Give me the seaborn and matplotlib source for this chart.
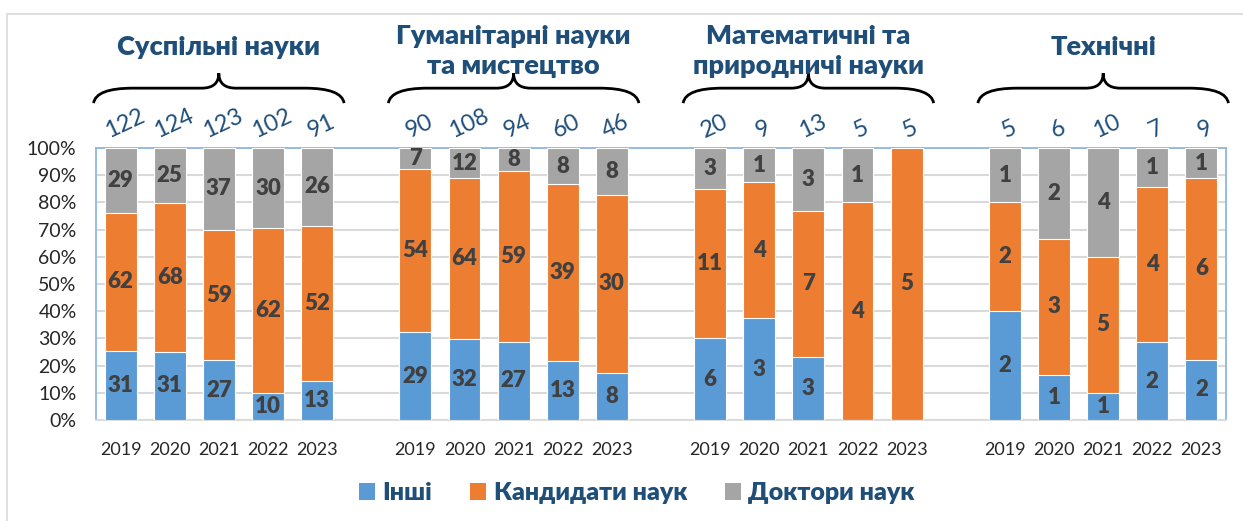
import numpy as np
import pandas as pd
import matplotlib
matplotlib.use("Agg")
import matplotlib.pyplot as plt
from matplotlib.patches import Patch, Rectangle, PathPatch
from matplotlib.path import Path
import seaborn as sns

# -------------------------------
# data
# -------------------------------
groups = ["Суспільні науки", "Гуманітарні науки\nта мистецтво",
          "Математичні та\nприродничі науки", "Технічні"]
years = ["2019", "2020", "2021", "2022", "2023"]

totals = [122, 124, 123, 102, 91,
          90, 108, 94, 60, 46,
          20, 9, 13, 5, 5,
          5, 6, 10, 7, 9]
inshi = [31, 31, 27, 10, 13,
         29, 32, 27, 13, 8,
         6, 3, 3, 0, 0,
         2, 1, 1, 2, 2]
kandydaty = [62, 68, 59, 62, 52,
             54, 64, 59, 39, 30,
             11, 4, 7, 4, 5,
             2, 3, 5, 4, 6]
doktory = [29, 25, 37, 30, 26,
           7, 12, 8, 8, 8,
           3, 1, 3, 1, 0,
           1, 2, 4, 1, 1]

series_names = ["Інші", "Кандидати наук", "Доктори наук"]
colors = ["#5B9BD5", "#ED7D31", "#A5A5A5"]
title_color = "#1F4E79"
label_color = "#404040"

# bar positions: 5 bars per group, one empty slot between groups
pos = [g * 6 + i for g in range(4) for i in range(5)]

df = pd.DataFrame({
    "pos": pos,
    "year": years * 4,
    "total": totals,
    "Інші": inshi,
    "Кандидати наук": kandydaty,
    "Доктори наук": doktory,
})
s = df[series_names].sum(axis=1)
df["p0"] = df["Інші"] / s * 100
df["p1"] = df["Кандидати наук"] / s * 100
df["p2"] = df["Доктори наук"] / s * 100
df["c0"] = df["p0"]
df["c1"] = df["p0"] + df["p1"]
df["c2"] = df["c1"] + df["p2"]

# -------------------------------
# figure
# -------------------------------
sns.set_style("white")
plt.rcParams["font.family"] = ["Lato", "Open Sans", "DejaVu Sans"]

W, H = 1243, 521
fig = plt.figure(figsize=(W / 100, H / 100), dpi=100)
ax = fig.add_axes([96 / W, 101 / H, 1130 / W, 272 / H])

# stacked bars drawn as layered cumulative bars
for col, c in zip(["c2", "c1", "c0"], colors[::-1]):
    sns.barplot(data=df, x="pos", y=col, native_scale=True, color=c,
                saturation=1, width=0.65, edgecolor="white", linewidth=0.8,
                errorbar=None, ax=ax, zorder=3)

# labels inside segments
for _, r in df.iterrows():
    bottom = 0
    for name, pk in zip(series_names, ["p0", "p1", "p2"]):
        v = r[name]
        h = r[pk]
        if v > 0:
            ax.text(r["pos"], bottom + h / 2, f"{int(v)}", ha="center", va="center",
                    fontsize=16, fontweight="heavy", color=label_color, zorder=5)
        bottom += h
    # totals above bars
    ax.text(r["pos"] + 0.08, 102.5, f"{int(r['total'])}", ha="center", va="bottom",
            rotation=25, fontsize=17, color=title_color, clip_on=False)

ax.set_xlim(-0.5, 22.5)
ax.set_ylim(0, 100)
ax.set_yticks(np.arange(0, 101, 10))
ax.set_yticklabels([f"{v}%" for v in range(0, 101, 10)], fontsize=14)
ax.set_xticks(pos)
ax.set_xticklabels(df["year"], fontsize=13)
ax.tick_params(axis="both", length=0)
ax.tick_params(axis="y", pad=14)
ax.tick_params(axis="x", pad=16)
ax.set_xlabel("")
ax.set_ylabel("")
ax.grid(axis="y", color="#D9D9D9", linewidth=1.5, zorder=0)
ax.set_axisbelow(True)
for sp in ax.spines.values():
    sp.set_color("#8FB8E0")
    sp.set_linewidth(1.3)
ax.spines["bottom"].set_color("#D9D9D9")


# curly braces and group titles
def brace(x0, x1, ye=116.5, yf=122, yt=127.5):
    xm = (x0 + x1) / 2
    verts = [(x0, ye), (x0 + 0.05, yf), (x0 + 0.8, yf),
             (xm - 0.35, yf), (xm, yf), (xm, yt),
             (xm, yf), (xm + 0.35, yf),
             (x1 - 0.8, yf), (x1 - 0.05, yf), (x1, ye)]
    codes = [Path.MOVETO, Path.CURVE3, Path.CURVE3,
             Path.LINETO, Path.CURVE3, Path.CURVE3,
             Path.CURVE3, Path.CURVE3,
             Path.LINETO, Path.CURVE3, Path.CURVE3]
    ax.add_patch(PathPatch(Path(verts, codes), fill=False, edgecolor="black",
                           linewidth=2, clip_on=False, transform=ax.transData))


for g, name in enumerate(groups):
    cx = g * 6 + 2
    brace(cx - 2.55, cx + 2.55)
    ty = 135.5 if "\n" in name else 137
    ax.text(cx, ty, name, ha="center", va="center", fontsize=19.5,
            fontweight="heavy", color=title_color, linespacing=1.3, clip_on=False)

# legend
handles = [Patch(facecolor=c, edgecolor="none") for c in colors]
leg = fig.legend(handles, series_names, loc="center", ncol=3,
                 bbox_to_anchor=(637 / W, 1 - 493 / H), frameon=False,
                 handlelength=0.65, handleheight=0.65, handletextpad=0.3,
                 columnspacing=1.5, prop={"weight": "heavy", "size": 18})
for t in leg.get_texts():
    t.set_color(title_color)

# outer chart border
fig.patches.append(Rectangle((7 / W, -0.1), 2, 1 - 14 / H + 0.1,
                             transform=fig.transFigure, fill=False,
                             edgecolor="#D9D9D9", linewidth=1.2))

fig.savefig("out.png", dpi=100, facecolor="white")
